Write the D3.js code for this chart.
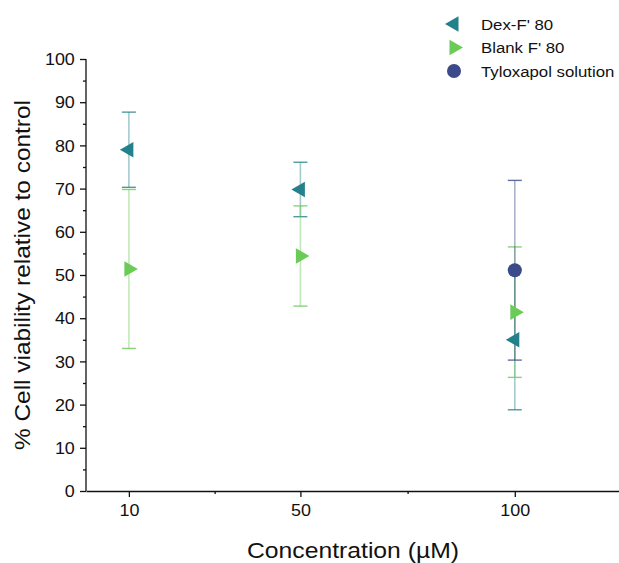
<!DOCTYPE html>
<html>
<head>
<meta charset="utf-8">
<script src="https://cdn.jsdelivr.net/npm/d3@7"></script>
<style>
  body { margin: 0; background: #fff; }
  text { font-family: "Liberation Sans", Arial, sans-serif; fill: #111; }
</style>
</head>
<body>
<div id="chart"></div>
<script>
// concentrations (uM)
var concentrations = [10, 50, 100];

// series values
var dexMean = [79.0, 69.8, 35.0];
var dexErr = [8.7, 6.3, 16.2];

var blankMean = [51.4, 54.4, 41.4];
var blankErr = [18.4, 11.6, 15.1];

var tyloxConc = [100];
var tyloxMean = [51.1];
var tyloxErr = [20.8];

var yTicks = [0, 10, 20, 30, 40, 50, 60, 70, 80, 90, 100];
var xTicks = [10, 50, 100];
var xMinor = [30, 75];

var width = 619, height = 563;

var svg = d3.select("#chart").append("svg")
    .attr("width", width)
    .attr("height", height);

var x = d3.scaleLinear().domain([0, 125]).range([86, 622]);
var y = d3.scaleLinear().domain([0, 100]).range([491, 59]);

var series = [
  { name: "Dex-F' 80", color: "#23818b", shape: "left", xs: concentrations, mean: dexMean, err: dexErr },
  { name: "Blank F' 80", color: "#6acb57", shape: "right", xs: concentrations, mean: blankMean, err: blankErr },
  { name: "Tyloxapol solution", color: "#3a4a8a", shape: "circle", xs: tyloxConc, mean: tyloxMean, err: tyloxErr }
];

var tri = d3.symbol().type(d3.symbolTriangle).size(105);

function drawMarker(g, s) {
  if (s.shape == "circle") {
    g.append("circle").attr("r", 7).attr("fill", s.color);
  } else {
    g.append("path")
      .attr("d", tri())
      .attr("transform", s.shape == "left" ? "rotate(-90)" : "rotate(90)")
      .attr("fill", s.color);
  }
}

// axes
var yAxis = svg.append("g")
    .attr("transform", "translate(86,0)")
    .call(d3.axisLeft(y).tickValues(yTicks).tickSize(6).tickPadding(4));
svg.append("g")
    .attr("transform", "translate(86,0)")
    .call(d3.axisLeft(y).tickValues(d3.range(5, 100, 10)).tickSize(3).tickFormat(""))
    .select(".domain").remove();

var xAxis = svg.append("g")
    .attr("transform", "translate(0,491)")
    .call(d3.axisBottom(x).tickValues(xTicks).tickSize(6).tickPadding(8).tickSizeOuter(0));
svg.append("g")
    .attr("transform", "translate(0,491)")
    .call(d3.axisBottom(x).tickValues(xMinor).tickSize(3).tickFormat(""))
    .select(".domain").remove();

svg.selectAll(".tick line").attr("stroke", "#111").attr("stroke-width", 1.3);
svg.selectAll(".domain").attr("stroke", "#111").attr("stroke-width", 1.3);
yAxis.select(".domain").attr("d", "M-0,491V59");
yAxis.selectAll(".tick text").style("font-size", "16px").attr("transform", "scale(1.12,1)").attr("dy", "0.36em");
xAxis.selectAll(".tick text").style("font-size", "16px").attr("transform", "scale(1.12,1)");

// error bars
series.forEach(function(s) {
  var g = svg.append("g");
  s.xs.forEach(function(c, i) {
    var cx = x(c), lo = y(s.mean[i] - s.err[i]), hi = y(s.mean[i] + s.err[i]);
    g.append("line").attr("x1", cx).attr("x2", cx).attr("y1", lo).attr("y2", hi)
      .attr("stroke", s.color).attr("stroke-opacity", 0.42).attr("stroke-width", 1.6);
    [lo, hi].forEach(function(yy) {
      g.append("line").attr("x1", cx - 7).attr("x2", cx + 7).attr("y1", yy).attr("y2", yy)
        .attr("stroke", s.color).attr("stroke-opacity", 0.8).attr("stroke-width", 1.4);
    });
  });
});

// markers
[series[1], series[0], series[2]].forEach(function(s) {
  s.xs.forEach(function(c, i) {
    var g = svg.append("g").attr("transform", "translate(" + x(c) + "," + y(s.mean[i]) + ")");
    drawMarker(g, s);
  });
});

// legend
var legend = svg.append("g").attr("transform", "translate(454,24)");
series.forEach(function(s, i) {
  var row = legend.append("g").attr("transform", "translate(0," + (i * 23.5) + ")");
  drawMarker(row, s);
  row.append("text")
    .attr("transform", "translate(27,5.5) scale(1.12,1)")
    .style("font-size", "15px")
    .text(s.name);
});

// axis titles
svg.append("text")
  .attr("transform", "translate(353,558) scale(1.15,1)")
  .attr("text-anchor", "middle")
  .style("font-size", "21.5px")
  .text("Concentration (\u00b5M)");

svg.append("text")
  .attr("transform", "translate(30,275) rotate(-90)")
  .attr("text-anchor", "middle")
  .style("font-size", "22px")
  .attr("textLength", 350)
  .attr("lengthAdjust", "spacingAndGlyphs")
  .text("% Cell viability relative to control");
</script>
</body>
</html>
